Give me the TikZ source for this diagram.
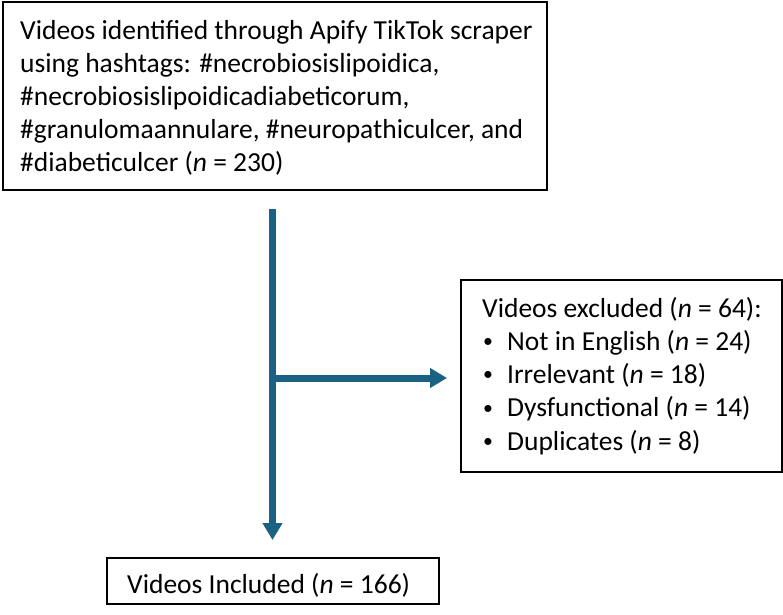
\documentclass[tikz,border=0pt]{standalone}
\usepackage{fontspec}
\setmainfont{Carlito}
\usetikzlibrary{arrows.meta}
\definecolor{arrowblue}{RGB}{26,97,131}
\newcommand{\smbullet}{\makebox[25pt][l]{\hspace{1pt}\raisebox{2.7pt}{\scalebox{0.72}{•}}}}
\begin{document}
\begin{tikzpicture}[x=1pt,y=-1pt,
  box/.style={draw=black, line width=1.4pt, rectangle, inner sep=0pt, outer sep=0pt, anchor=north west},
  txt/.style={anchor=base west, inner sep=0pt, font=\fontsize{27.5}{33}\selectfont},
  flow/.style={draw=arrowblue, line width=7pt, -{Triangle[length=17pt,width=19pt]}}]
\useasboundingbox (0,0) rectangle (783,614);
% boxes
\node[box, minimum width=544pt, minimum height=188pt] (top) at (3,2) {};
\node[box, minimum width=321pt, minimum height=192pt] (excl) at (461,280) {};
\node[box, minimum width=332pt, minimum height=46pt] (incl) at (107,558) {};
% top text
\node[txt] (t1) at (20,39.5) {Videos identified through Apify TikTok scraper};
\node[txt] (t2) at (20,72.5) {using hashtags: \#necrobiosislipoidica,};
\node[txt] (t3) at (20,105.5) {\#necrobiosislipoidicadiabeticorum,};
\node[txt] (t4) at (20,138.5) {\#granulomaannulare, \#neuropathiculcer, and};
\node[txt] (t5) at (20,171.5) {\#diabeticulcer (\textit{n} = 230)};
% excluded text
\node[txt] (e1) at (482,317) {Videos excluded (\textit{n} = 64):};
\node[txt] (e2) at (482,350.3) {\smbullet Not in English (\textit{n} = 24)};
\node[txt] (e3) at (482,383.6) {\smbullet Irrelevant (\textit{n} = 18)};
\node[txt] (e4) at (482,416.9) {\smbullet Dysfunctional (\textit{n} = 14)};
\node[txt] (e5) at (482,450.2) {\smbullet Duplicates (\textit{n} = 8)};
% included text
\node[txt] (i1) at (127,593) {Videos Included (\textit{n} = 166)};
% connectors
\coordinate (vs) at (272.5,209);
\coordinate (ve) at (272.5,540);
\coordinate (hs) at (272.5,378);
\coordinate (he) at (447,378);
\draw[flow] (vs) -- (ve);
\draw[flow] (hs) -- (he);
\end{tikzpicture}
\end{document}
